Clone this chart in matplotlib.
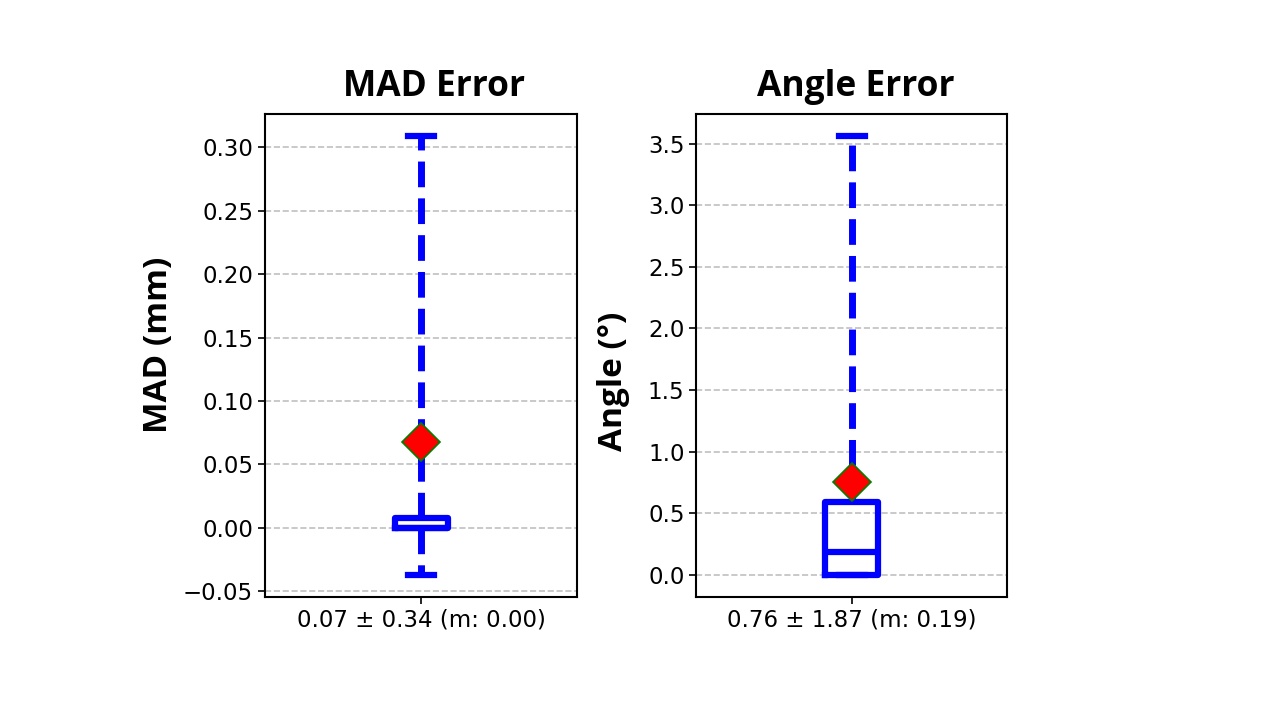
import matplotlib
matplotlib.use("Agg")
import matplotlib.pyplot as plt

# summary statistics
titles = ["MAD Error", "Angle Error"]
ylabels = ["MAD (mm)", "Angle (°)"]
xlabels = ["0.07 ± 0.34 (m: 0.00)", "0.76 ± 1.87 (m: 0.19)"]
whislo = [-0.037, 0.0]
q1 = [0.0, 0.0]
med = [0.0, 0.19]
q3 = [0.008, 0.59]
whishi = [0.309, 3.564]
means = [0.068, 0.756]
yticks = [[-0.05, 0.00, 0.05, 0.10, 0.15, 0.20, 0.25, 0.30],
          [0.0, 0.5, 1.0, 1.5, 2.0, 2.5, 3.0, 3.5]]
ytick_fmt = ["{:.2f}", "{:.1f}"]

fig = plt.figure(figsize=(12.8, 7.2), dpi=100)
positions = [[0.207, 0.171, 0.244, 0.671], [0.544, 0.171, 0.243, 0.671]]
# title / ylabel placement (axes fraction), the labels sit off-centre in the reference
title_x = [0.542, 0.514]
ylabel_xy = [(-0.288, 0.522), (-0.213, 0.447)]

for i in range(2):
    ax = fig.add_axes(positions[i])
    stats = [dict(label=xlabels[i], whislo=whislo[i], q1=q1[i], med=med[i],
                  q3=q3[i], whishi=whishi[i], mean=means[i], fliers=[])]
    ax.bxp(stats, widths=0.17, capwidths=0.085, showmeans=True,
           boxprops=dict(color="blue", linewidth=4.5),
           whiskerprops=dict(color="blue", linewidth=5, linestyle="--"),
           capprops=dict(color="blue", linewidth=4.5),
           medianprops=dict(color="blue", linewidth=4.5),
           meanprops=dict(marker="D", markerfacecolor="red",
                          markeredgecolor="green", markersize=19,
                          markeredgewidth=1.2))
    ax.set_yticks(yticks[i])
    ax.set_yticklabels([ytick_fmt[i].format(v).replace("-", "\u2212") for v in yticks[i]])
    ax.tick_params(axis="both", labelsize=16.5, length=5, width=1.2)
    ax.yaxis.grid(True, linestyle="--", color="#c0c0c0", linewidth=1.2)
    ax.set_axisbelow(True)
    for s in ax.spines.values():
        s.set_linewidth(1.5)
    t = ax.set_title(titles[i], fontsize=25.5, fontweight="bold",
                     family=["Open Sans", "DejaVu Sans"], pad=13)
    t.set_x(title_x[i])
    ax.set_ylabel(ylabels[i], fontsize=24, fontweight="bold",
                  family=["Open Sans", "DejaVu Sans"])
    ax.yaxis.set_label_coords(*ylabel_xy[i])

fig.savefig("out.png", dpi=100)
